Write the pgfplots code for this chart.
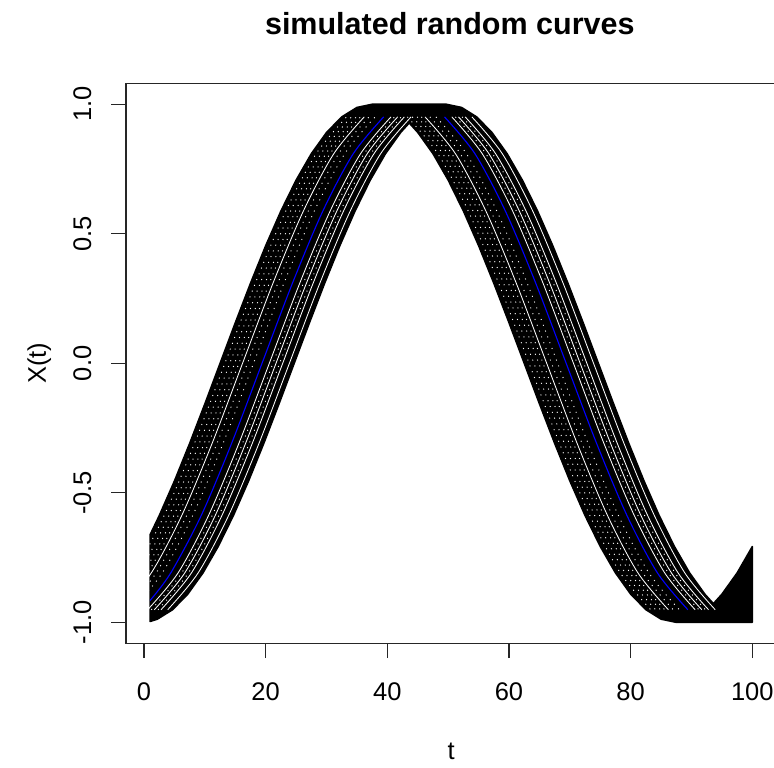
\documentclass[border=0pt]{standalone}
\usepackage{fontspec}
\setmainfont{Liberation Sans}
\usepackage{pgfplots}
\pgfplotsset{compat=1.18}
\begin{document}
\begin{tikzpicture}
\useasboundingbox (0,0) rectangle (387pt,383.5pt);
\begin{axis}[
  at={(63pt,61.95pt)}, anchor=south west,
  scale only axis, width=325.2pt, height=279.8pt,
  xmin=-2.96, xmax=103.96, ymin=-1.08, ymax=1.08,
  axis on top,
  xtick={0,20,40,60,80,100},
  ytick={-1,-0.5,0,0.5,1},
  yticklabels={-1.0,-0.5,0.0,0.5,1.0},
  xtick pos=bottom, ytick pos=left,
  tick align=outside, major tick length=7.5pt,
  tick style={black!85, line width=0.6pt},
  axis line style={line width=0.6pt, black!85},
  /pgf/number format/assume math mode=true,
  tick label style={font=\fontsize{12.75pt}{15pt}\selectfont},
  xticklabel style={anchor=base, yshift=-21pt},
  yticklabel style={rotate=90, anchor=base, yshift=10pt},
  title={simulated random curves},
  title style={at={(rel axis cs:0.5,1)}, anchor=base, yshift=18.5pt, xshift=-0.7pt, font=\bfseries\fontsize{15.25pt}{18pt}\selectfont},
  xlabel={t}, ylabel={X(t)},
  xlabel style={at={(rel axis cs:0.5,0)}, anchor=base, yshift=-58pt, font=\fontsize{12.75pt}{15pt}\selectfont},
  ylabel style={at={(rel axis cs:0,0.5)}, anchor=base, yshift=40pt, font=\fontsize{12.75pt}{15pt}\selectfont},
]
% band of curves (envelope of all simulated curves)
\addplot[fill=black, draw=black, line width=0.75pt, line join=round] coordinates {
(1,-0.6613) (2.5,-0.5878) (5,-0.4540) (7.5,-0.3090) (10,-0.1564) (12.5,0) (15,0.1564) (17.5,0.3090) (20,0.4540) (22.5,0.5878) (25,0.7071) (27.5,0.8090) (30,0.8910) (32.5,0.9511) (35,0.9877) (37.5,1)
(49.7,1)
(52.2,0.9877) (54.7,0.9511) (57.2,0.8910) (59.7,0.8090) (62.2,0.7071) (64.7,0.5878) (67.2,0.4540) (69.7,0.3090) (72.2,0.1564) (74.7,0) (77.2,-0.1564) (79.7,-0.3090) (82.2,-0.4540) (84.7,-0.5878) (87.2,-0.7071) (89.7,-0.8090) (92.2,-0.8910) (93.6,-0.9275)
(95,-0.8910) (97.5,-0.8090) (100,-0.7071)
(100,-1) (87.5,-1)
(85,-0.9877) (82.5,-0.9511) (80,-0.8910) (77.5,-0.8090) (75,-0.7071) (72.5,-0.5878) (70,-0.4540) (67.5,-0.3090) (65,-0.1564) (62.5,0) (60,0.1564) (57.5,0.3090) (55,0.4540) (52.5,0.5878) (50,0.7071) (47.5,0.8090) (45,0.8910) (43.6,0.9275)
(42.2,0.8910) (39.7,0.8090) (37.2,0.7071) (34.7,0.5878) (32.2,0.4540) (29.7,0.3090) (27.2,0.1564) (24.7,0) (22.2,-0.1564) (19.7,-0.3090) (17.2,-0.4540) (14.7,-0.5878) (12.2,-0.7071) (9.7,-0.8090) (7.2,-0.8910) (4.7,-0.9511) (2.2,-0.9877) (1,-0.9966)
(1,-0.6613)
};
% sparse gaps between curves: dotted white
\pgfplotsset{gapdot/.style={white, line width=0.45pt, dash pattern=on 0.5pt off 2.6pt, smooth}}
\pgfplotsset{gapline/.style={white, line width=0.42pt, smooth}}
% tau = 38.3
\addplot[gapdot] coordinates {(-6.7,-0.9511) (-1.7,-0.8090) (3.3,-0.5878) (8.3,-0.3090) (13.3,0) (18.3,0.3090) (23.3,0.5878) (28.3,0.8090) (33.3,0.9511)};
\addplot[gapdot] coordinates {(43.3,0.9511) (48.3,0.8090) (53.3,0.5878) (58.3,0.3090) (63.3,0) (68.3,-0.3090) (73.3,-0.5878) (78.3,-0.8090) (83.3,-0.9511)};
% tau = 39.1
\addplot[gapdot] coordinates {(-5.9,-0.9511) (-0.9,-0.8090) (4.1,-0.5878) (9.1,-0.3090) (14.1,0) (19.1,0.3090) (24.1,0.5878) (29.1,0.8090) (34.1,0.9511)};
\addplot[gapdot] coordinates {(44.1,0.9511) (49.1,0.8090) (54.1,0.5878) (59.1,0.3090) (64.1,0) (69.1,-0.3090) (74.1,-0.5878) (79.1,-0.8090) (84.1,-0.9511)};
% tau = 39.9
\addplot[gapdot] coordinates {(-5.1,-0.9511) (-0.1,-0.8090) (4.9,-0.5878) (9.9,-0.3090) (14.9,0) (19.9,0.3090) (24.9,0.5878) (29.9,0.8090) (34.9,0.9511)};
\addplot[gapdot] coordinates {(44.9,0.9511) (49.9,0.8090) (54.9,0.5878) (59.9,0.3090) (64.9,0) (69.9,-0.3090) (74.9,-0.5878) (79.9,-0.8090) (84.9,-0.9511)};
% tau = 40.6
\addplot[gapdot] coordinates {(-4.4,-0.9511) (0.6,-0.8090) (5.6,-0.5878) (10.6,-0.3090) (15.6,0) (20.6,0.3090) (25.6,0.5878) (30.6,0.8090) (35.6,0.9511)};
\addplot[gapdot] coordinates {(45.6,0.9511) (50.6,0.8090) (55.6,0.5878) (60.6,0.3090) (65.6,0) (70.6,-0.3090) (75.6,-0.5878) (80.6,-0.8090) (85.6,-0.9511)};
% tau = 42.0
\addplot[gapdot] coordinates {(-3,-0.9511) (2,-0.8090) (7,-0.5878) (12,-0.3090) (17,0) (22,0.3090) (27,0.5878) (32,0.8090) (37,0.9511)};
\addplot[gapdot] coordinates {(47,0.9511) (52,0.8090) (57,0.5878) (62,0.3090) (67,0) (72,-0.3090) (77,-0.5878) (82,-0.8090) (87,-0.9511)};
% tau = 43.0
\addplot[gapdot] coordinates {(-2,-0.9511) (3,-0.8090) (8,-0.5878) (13,-0.3090) (18,0) (23,0.3090) (28,0.5878) (33,0.8090) (38,0.9511)};
\addplot[gapdot] coordinates {(48,0.9511) (53,0.8090) (58,0.5878) (63,0.3090) (68,0) (73,-0.3090) (78,-0.5878) (83,-0.8090) (88,-0.9511)};
% tau = 46.2
\addplot[gapdot] coordinates {(1.2,-0.9511) (6.2,-0.8090) (11.2,-0.5878) (16.2,-0.3090) (21.2,0) (26.2,0.3090) (31.2,0.5878) (36.2,0.8090) (41.2,0.9511)};
\addplot[gapdot] coordinates {(51.2,0.9511) (56.2,0.8090) (61.2,0.5878) (66.2,0.3090) (71.2,0) (76.2,-0.3090) (81.2,-0.5878) (86.2,-0.8090) (91.2,-0.9511)};
% tau = 47.3
\addplot[gapdot] coordinates {(2.3,-0.9511) (7.3,-0.8090) (12.3,-0.5878) (17.3,-0.3090) (22.3,0) (27.3,0.3090) (32.3,0.5878) (37.3,0.8090) (42.3,0.9511)};
\addplot[gapdot] coordinates {(52.3,0.9511) (57.3,0.8090) (62.3,0.5878) (67.3,0.3090) (72.3,0) (77.3,-0.3090) (82.3,-0.5878) (87.3,-0.8090) (92.3,-0.9511)};
% wider gaps: solid white
% tau = 41.2
\addplot[gapline] coordinates {(-3.8,-0.9511) (1.2,-0.8090) (6.2,-0.5878) (11.2,-0.3090) (16.2,0) (21.2,0.3090) (26.2,0.5878) (31.2,0.8090) (36.2,0.9511)};
\addplot[gapline] coordinates {(46.2,0.9511) (51.2,0.8090) (56.2,0.5878) (61.2,0.3090) (66.2,0) (71.2,-0.3090) (76.2,-0.5878) (81.2,-0.8090) (86.2,-0.9511)};
% tau = 45.6
\addplot[gapline] coordinates {(0.6,-0.9511) (5.6,-0.8090) (10.6,-0.5878) (15.6,-0.3090) (20.6,0) (25.6,0.3090) (30.6,0.5878) (35.6,0.8090) (40.6,0.9511)};
\addplot[gapline] coordinates {(50.6,0.9511) (55.6,0.8090) (60.6,0.5878) (65.6,0.3090) (70.6,0) (75.6,-0.3090) (80.6,-0.5878) (85.6,-0.8090) (90.6,-0.9511)};
% tau = 46.7
\addplot[gapline] coordinates {(1.7,-0.9511) (6.7,-0.8090) (11.7,-0.5878) (16.7,-0.3090) (21.7,0) (26.7,0.3090) (31.7,0.5878) (36.7,0.8090) (41.7,0.9511)};
\addplot[gapline] coordinates {(51.7,0.9511) (56.7,0.8090) (61.7,0.5878) (66.7,0.3090) (71.7,0) (76.7,-0.3090) (81.7,-0.5878) (86.7,-0.8090) (91.7,-0.9511)};
% tau = 47.8
\addplot[gapline] coordinates {(2.8,-0.9511) (7.8,-0.8090) (12.8,-0.5878) (17.8,-0.3090) (22.8,0) (27.8,0.3090) (32.8,0.5878) (37.8,0.8090) (42.8,0.9511)};
\addplot[gapline] coordinates {(52.8,0.9511) (57.8,0.8090) (62.8,0.5878) (67.8,0.3090) (72.8,0) (77.8,-0.3090) (82.8,-0.5878) (87.8,-0.8090) (92.8,-0.9511)};
% tau = 48.9
\addplot[gapline] coordinates {(3.9,-0.9511) (8.9,-0.8090) (13.9,-0.5878) (18.9,-0.3090) (23.9,0) (28.9,0.3090) (33.9,0.5878) (38.9,0.8090) (43.9,0.9511)};
\addplot[gapline] coordinates {(53.9,0.9511) (58.9,0.8090) (63.9,0.5878) (68.9,0.3090) (73.9,0) (78.9,-0.3090) (83.9,-0.5878) (88.9,-0.8090) (93.9,-0.9511)};
% mean curve (blue)
\addplot[blue, line width=0.55pt, smooth] coordinates {(1,-0.9153) (4.4,-0.8090) (9.4,-0.5878) (14.4,-0.3090) (19.4,0) (24.4,0.3090) (29.4,0.5878) (34.4,0.8090) (39.4,0.9511)};
\addplot[blue, line width=0.55pt, smooth] coordinates {(49.4,0.9511) (54.4,0.8090) (59.4,0.5878) (64.4,0.3090) (69.4,0) (74.4,-0.3090) (79.4,-0.5878) (84.4,-0.8090) (89.4,-0.9511)};
\end{axis}
\end{tikzpicture}
\end{document}
